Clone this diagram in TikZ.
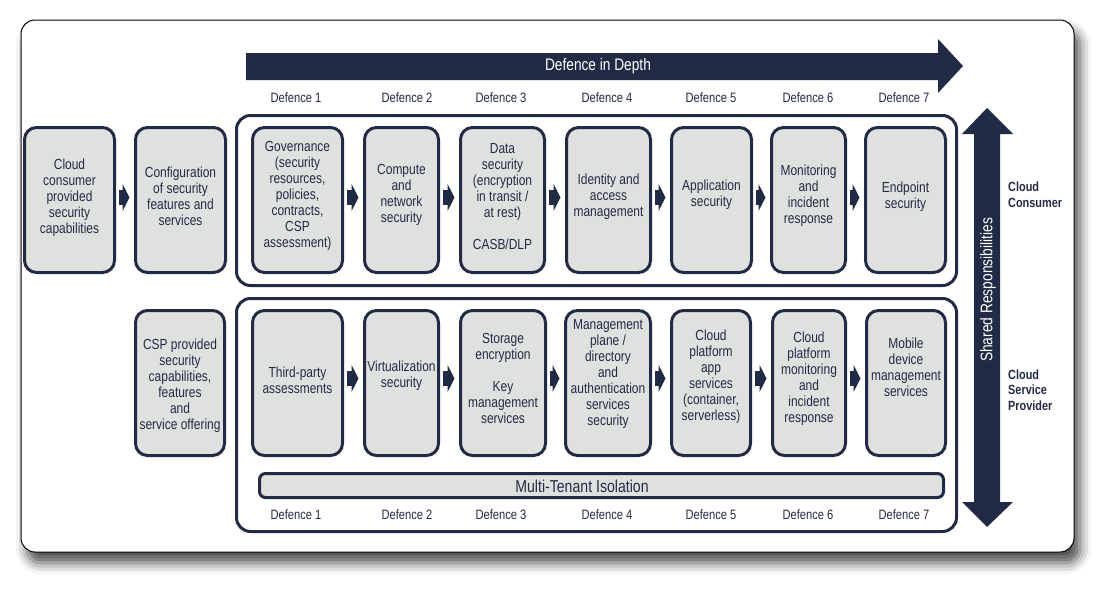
\documentclass[tikz,border=0pt]{standalone}
\usepackage{fontspec}
\setmainfont{Liberation Sans}[FakeStretch=0.82]
\usetikzlibrary{arrows.meta,shadows.blur,calc}
\definecolor{navy}{HTML}{212B45}
\definecolor{boxgray}{HTML}{DFE1DF}
\begin{document}
\begin{tikzpicture}[x=1pt,y=-1pt,
  box/.style={draw=navy, line width=3pt, fill=boxgray, rounded corners=12pt, inner sep=0pt, minimum height=145pt},
  txt/.style={text=navy, align=center, font=\fontsize{14.6}{16}\selectfont, inner sep=0pt},
  deflabel/.style={text=navy, font=\fontsize{13.6}{15}\selectfont, inner sep=0pt},
  container/.style={draw=navy, line width=3pt, rounded corners=14pt, inner sep=0pt},
  flow/.style={draw=navy, line width=15pt, -{Triangle[length=7pt,width=27pt]}, shorten <=2.5pt, shorten >=4.5pt},
  side/.style={text=navy, align=left, font=\bfseries\fontsize{13.3}{15.5}\selectfont, inner sep=0pt, anchor=west}
]
\useasboundingbox (0,0) rectangle (1095,589);
% outer frame
\node[draw=black, fill=white, line width=1pt, rounded corners=14pt, minimum width=1053pt, minimum height=532pt, inner sep=0pt,
  blur shadow={shadow xshift=6pt, shadow yshift=-11pt, shadow blur radius=11pt, shadow opacity=70}] (frame) at (547.5,286) {};

% Defence in Depth arrow
\fill[navy] (246,53) -- (938,53) -- (938,39) -- (963,66) -- (938,93) -- (938,80) -- (246,80) -- cycle;
\node[font=\fontsize{16.7}{18}\selectfont, text=white, inner sep=0pt] (did) at (598,66.5) {Defence in Depth};

% Defence labels
\foreach \i/\x in {1/296,2/407,3/501,4/607,5/711,6/808,7/904}{
  \node[deflabel] (dt\i) at (\x,98) {Defence \i};
  \node[deflabel] (db\i) at (\x,515) {Defence \i};
}

% containers
\node[container, minimum width=720pt, minimum height=170pt] (upper) at (596.5,200.5) {};
\node[container, minimum width=720pt, minimum height=233pt] (lower) at (596.5,415) {};

% left boxes
\node[box, minimum width=90pt] (cc) at (69.5,200) {};
\node[box, minimum width=90pt] (cfg) at (180.5,200) {};
\node[box, minimum width=89pt] (csp) at (180,383) {};

% row 1
\node[box, minimum width=90pt] (b1) at (297.5,200) {};
\node[box, minimum width=74pt] (b2) at (401.5,200) {};
\node[box, minimum width=84pt] (b3) at (502.5,200) {};
\node[box, minimum width=84pt] (b4) at (608.5,200) {};
\node[box, minimum width=80pt] (b5) at (711.5,200) {};
\node[box, minimum width=74pt] (b6) at (808.5,200) {};
\node[box, minimum width=80pt] (b7) at (905.5,200) {};

% row 2
\node[box, minimum width=90pt] (p1) at (297.5,383) {};
\node[box, minimum width=74pt] (p2) at (401.5,383) {};
\node[box, minimum width=85pt] (p3) at (503,383) {};
\node[box, minimum width=85pt] (p4) at (608,383) {};
\node[box, minimum width=79pt] (p5) at (711,383) {};
\node[box, minimum width=73pt] (p6) at (809,383) {};
\node[box, minimum width=79pt] (p7) at (906,383) {};

% multi-tenant bar
\node[draw=navy, line width=3pt, fill=boxgray, rounded corners=6pt, minimum width=684pt, minimum height=24pt, inner sep=0pt] (mt) at (601.5,485.5) {};
\node[text=navy, font=\fontsize{17.2}{18}\selectfont, inner sep=0pt] (mtt) at (582,486) {Multi-Tenant Isolation};

% texts
\node[txt] (cct) at (69.5,198) {Cloud\\consumer\\provided\\security\\capabilities};
\node[txt] (cfgt) at (180.5,196) {Configuration\\of security\\features and\\services};
\node[txt] (cspt) at (180,385.5) {CSP provided\\security\\capabilities,\\features\\and\\service offering};

\node[txt] (b1t) at (297.5,196) {Governance\\(security\\resources,\\policies,\\contracts,\\CSP\\assessment)};
\node[txt] (b2t) at (401.5,195) {Compute\\and\\network\\security};
\node[txt] (b3t) at (502.5,196.5) {Data\\security\\(encryption\\in transit /\\at rest)\\[16pt]CASB/DLP};
\node[txt] (b4t) at (608.5,197) {Identity and\\access\\management};
\node[txt] (b5t) at (711.5,195) {Application\\security};
\node[txt] (b6t) at (808.5,196) {Monitoring\\and\\incident\\response};
\node[txt] (b7t) at (905.5,197) {Endpoint\\security};

\node[txt] (p1t) at (297.5,380) {Third-party\\assessments};
\node[txt] (p2t) at (401.5,376) {Virtualization\\security};
\node[txt] (p3t) at (503,378.5) {Storage\\encryption\\[16pt]Key\\management\\services};
\node[txt] (p4t) at (608,374) {Management\\plane /\\directory\\and\\authentication\\services\\security};
\node[txt] (p5t) at (711,377) {Cloud\\platform\\app\\services\\(container,\\serverless)};
\node[txt] (p6t) at (809,378.5) {Cloud\\platform\\monitoring\\and\\incident\\response};
\node[txt] (p7t) at (906,367) {Mobile\\device\\management\\services};

% flow arrows
\draw[flow] ([yshift=2.5pt]cc.east) -- ([yshift=2.5pt]cfg.west);
\foreach \a/\b in {b1/b2,b2/b3,b3/b4,b4/b5,b5/b6,b6/b7}{
  \draw[flow] ([yshift=2.5pt]\a.east) -- ([yshift=2.5pt]\b.west);
}
\foreach \a/\b in {p1/p2,p2/p3,p3/p4,p4/p5,p5/p6,p6/p7}{
  \draw[flow] ([yshift=4.5pt]\a.east) -- ([yshift=4.5pt]\b.west);
}

% shared responsibilities double arrow
\fill[navy] (987,108) -- (1013,134) -- (1000,134) -- (1000,502) -- (1013,502) -- (987,527) -- (962,502) -- (974,502) -- (974,134) -- (962,134) -- cycle;
\node[rotate=90, text=white, font=\fontsize{16.8}{18}\selectfont, inner sep=0pt] (sr) at (988,290) {Shared Responsibilities};

\node[side] (cons) at (1008,194.5) {Cloud\\Consumer};
\node[side] (prov) at (1008,390) {Cloud\\Service\\Provider};
\end{tikzpicture}
\end{document}
